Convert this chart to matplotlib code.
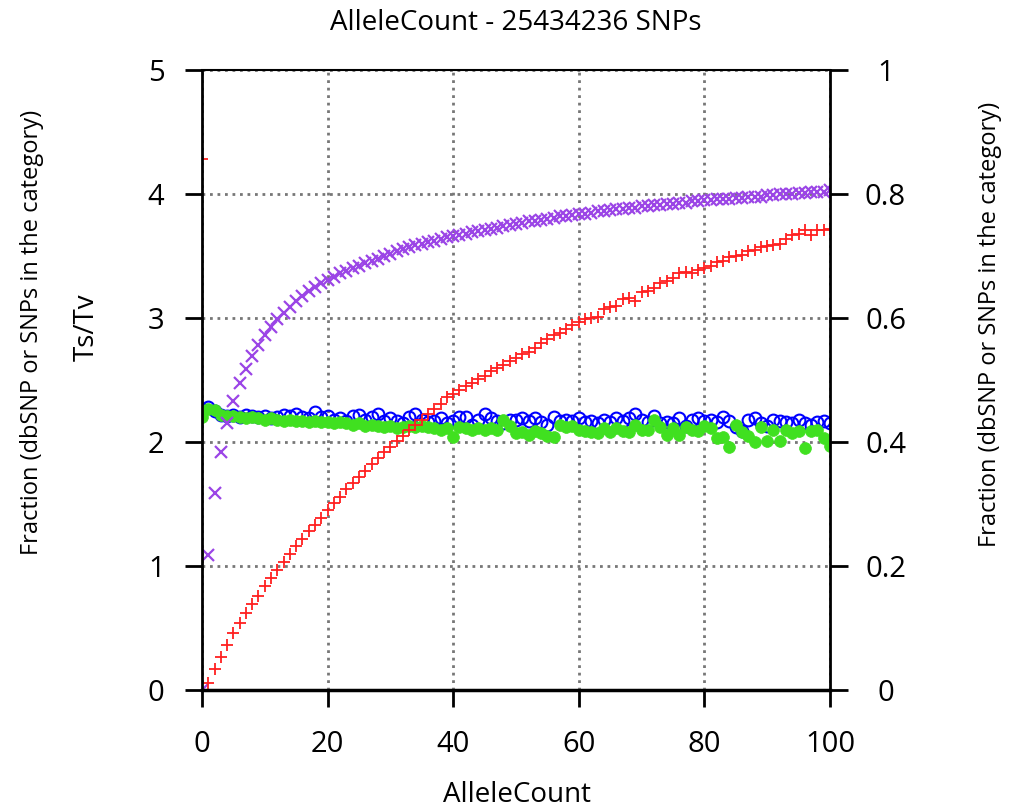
import numpy as np
import matplotlib
matplotlib.use("Agg")
import matplotlib.pyplot as plt

plt.rcParams['font.family'] = ['Open Sans', 'DejaVu Sans']

allele_count = list(range(0, 101))

# purple x (rises fast, saturates near 4)
purple = [0.00, 1.09, 1.59, 1.92, 2.15, 2.33, 2.48, 2.59, 2.69, 2.78,
          2.86, 2.93, 2.99, 3.04, 3.09, 3.14, 3.18, 3.22, 3.25, 3.28,
          3.31, 3.33, 3.36, 3.38, 3.40, 3.42, 3.44, 3.46, 3.48, 3.50,
          3.52, 3.54, 3.56, 3.57, 3.59, 3.60, 3.61, 3.62, 3.64, 3.65,
          3.66, 3.67, 3.68, 3.69, 3.70, 3.71, 3.72, 3.73, 3.74, 3.75,
          3.76, 3.77, 3.78, 3.78, 3.79, 3.80, 3.81, 3.82, 3.82, 3.83,
          3.84, 3.84, 3.85, 3.86, 3.86, 3.87, 3.88, 3.88, 3.89, 3.89,
          3.90, 3.90, 3.91, 3.91, 3.92, 3.92, 3.93, 3.93, 3.94, 3.94,
          3.95, 3.95, 3.96, 3.96, 3.96, 3.97, 3.97, 3.98, 3.98, 3.98,
          3.99, 3.99, 4.00, 4.00, 4.00, 4.01, 4.01, 4.02, 4.02, 4.02,
          4.03]

# red + (steady climb)
red = [4.28, 0.06, 0.17, 0.27, 0.36, 0.46, 0.54, 0.62, 0.69, 0.76,
       0.84, 0.90, 0.97, 1.03, 1.10, 1.16, 1.22, 1.28, 1.33, 1.39,
       1.45, 1.51, 1.56, 1.62, 1.67, 1.72, 1.77, 1.82, 1.87, 1.92,
       1.96, 2.01, 2.05, 2.10, 2.14, 2.18, 2.23, 2.27, 2.31, 2.36,
       2.39, 2.42, 2.45, 2.48, 2.51, 2.53, 2.57, 2.60, 2.62, 2.65,
       2.68, 2.71, 2.73, 2.76, 2.80, 2.83, 2.86, 2.88, 2.91, 2.94,
       2.97, 2.99, 3.00, 3.01, 3.07, 3.09, 3.10, 3.15, 3.16, 3.14,
       3.21, 3.22, 3.24, 3.28, 3.30, 3.32, 3.36, 3.37, 3.36, 3.39,
       3.40, 3.42, 3.45, 3.46, 3.49, 3.50, 3.51, 3.54, 3.55, 3.57,
       3.58, 3.59, 3.60, 3.64, 3.67, 3.68, 3.71, 3.67, 3.71, 3.71,
       3.72]

# blue open circles
blue = [2.27, 2.28, 2.25, 2.22, 2.21, 2.22, 2.20, 2.22, 2.21, 2.20,
        2.21, 2.19, 2.20, 2.22, 2.21, 2.23, 2.20, 2.19, 2.24, 2.20,
        2.21, 2.18, 2.19, 2.17, 2.21, 2.22, 2.18, 2.20, 2.23, 2.17,
        2.19, 2.17, 2.15, 2.20, 2.23, 2.18, 2.16, 2.17, 2.19, 2.15,
        2.17, 2.20, 2.20, 2.14, 2.18, 2.23, 2.19, 2.17, 2.15, 2.18,
        2.18, 2.19, 2.17, 2.19, 2.16, 2.14, 2.20, 2.17, 2.18, 2.17,
        2.19, 2.16, 2.17, 2.15, 2.18, 2.16, 2.19, 2.17, 2.19, 2.23,
        2.18, 2.16, 2.21, 2.15, 2.16, 2.15, 2.19, 2.13, 2.18, 2.19,
        2.17, 2.18, 2.16, 2.20, 2.17, 2.12, 2.09, 2.18, 2.19, 2.15,
        2.13, 2.18, 2.17, 2.16, 2.15, 2.18, 2.15, 2.14, 2.16, 2.17,
        2.15]

# green filled circles
green = [2.20, 2.27, 2.26, 2.22, 2.21, 2.21, 2.20, 2.19, 2.20, 2.19,
         2.18, 2.19, 2.18, 2.17, 2.18, 2.17, 2.17, 2.16, 2.17, 2.16,
         2.16, 2.15, 2.16, 2.15, 2.14, 2.15, 2.13, 2.14, 2.13, 2.12,
         2.13, 2.11, 2.12, 2.13, 2.12, 2.13, 2.12, 2.11, 2.10, 2.11,
         2.04, 2.12, 2.11, 2.10, 2.11, 2.10, 2.11, 2.10, 2.18, 2.13,
         2.07, 2.08, 2.06, 2.09, 2.07, 2.05, 2.04, 2.14, 2.12, 2.13,
         2.10, 2.09, 2.08, 2.07, 2.11, 2.08, 2.11, 2.09, 2.08, 2.14,
         2.10, 2.10, 2.18, 2.12, 2.06, 2.11, 2.06, 2.12, 2.10, 2.09,
         2.13, 2.11, 2.03, 2.04, 1.96, 2.14, 2.08, 2.05, 2.00, 2.12,
         2.01, 2.10, 2.01, 2.10, 2.07, 2.09, 1.95, 2.09, 2.10, 2.03,
         1.97]

x_ticks = [0, 20, 40, 60, 80, 100]
left_ticks = [0, 1, 2, 3, 4, 5]
right_ticks = [0, 0.2, 0.4, 0.6, 0.8, 1]
right_labels = ['0', '0.2', '0.4', '0.6', '0.8', '1']

fig = plt.figure(figsize=(10.19, 8.10), dpi=100)
ax = fig.add_axes([0.1982, 0.1481, 0.6163, 0.7654])

ax.plot(allele_count, blue, linestyle='none', marker='o', ms=8.5,
        mfc='none', mec='#0000ff', mew=1.5)
ax.plot(allele_count, green, linestyle='none', marker='o', ms=8.5,
        mfc='#40e020', mec='#40e020', mew=0.5)
ax.plot(allele_count, purple, linestyle='none', marker='x', ms=8.5,
        color='#9b45e6', mew=1.6)
ax.plot(allele_count, red, linestyle='none', marker='+', ms=9,
        color='#ff2020', mew=1.3)

ax.set_xlim(0, 100)
ax.set_ylim(0, 5)
ax.set_xticks(x_ticks)
ax.set_yticks(left_ticks)
ax.grid(True, color='#777777', linestyle=(0, (1, 1.7)), linewidth=2)

ax.tick_params(axis='both', direction='out', length=12, width=2,
               labelsize=21, top=False, right=False)
ax.tick_params(axis='x', pad=17)
ax.tick_params(axis='y', pad=21)
for lab in ax.get_yticklabels():
    lab.set_horizontalalignment('center')

ax.spines['left'].set_linewidth(2)
ax.spines['bottom'].set_linewidth(2.5)
ax.spines['top'].set_linewidth(1.5)
ax.spines['right'].set_visible(False)

ax2 = ax.twinx()
ax2.set_ylim(0, 1)
ax2.set_yticks(right_ticks)
ax2.set_yticklabels(right_labels)
ax2.tick_params(axis='y', direction='out', length=13, width=2,
                labelsize=21, pad=27)
for lab in ax2.get_yticklabels():
    lab.set_horizontalalignment('center')
for s in ['left', 'top', 'bottom']:
    ax2.spines[s].set_visible(False)
ax2.spines['right'].set_linewidth(2)

fig.text(0.506, 0.972, 'AlleleCount - 25434236 SNPs', ha='center', va='center',
         fontsize=20)
fig.text(0.507, 0.018, 'AlleleCount', ha='center', va='center', fontsize=20)
fig.text(0.031, 0.590, 'Fraction (dbSNP or SNPs in the category)', rotation=90,
         ha='center', va='center', fontsize=17)
fig.text(0.085, 0.596, 'Ts/Tv', rotation=90, ha='center', va='center',
         fontsize=20)
fig.text(0.972, 0.600, 'Fraction (dbSNP or SNPs in the category)', rotation=90,
         ha='center', va='center', fontsize=17)

fig.savefig('out.png', dpi=100)
